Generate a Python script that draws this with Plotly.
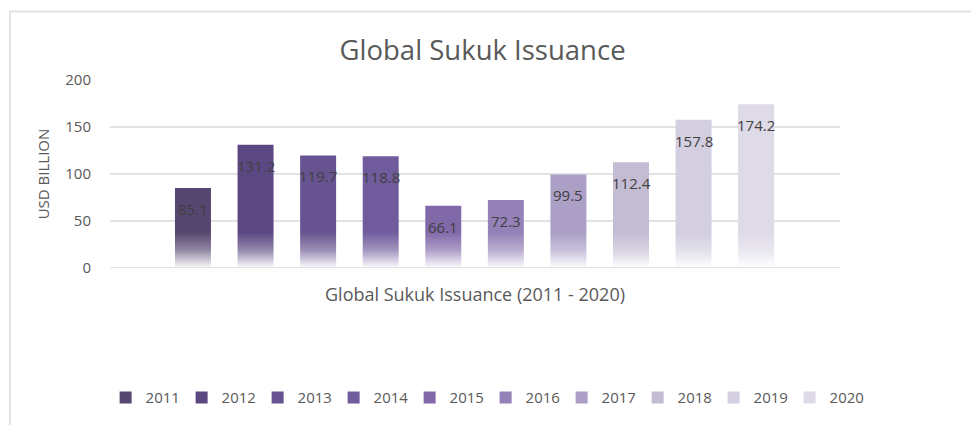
import base64
import plotly.graph_objects as go

# Global sukuk issuance, USD billion
years = ["2011", "2012", "2013", "2014", "2015", "2016", "2017", "2018", "2019", "2020"]
issuance = [85.1, 131.2, 119.7, 118.8, 66.1, 72.3, 99.5, 112.4, 157.8, 174.2]
bar_colors = ["#55476f", "#5b4882", "#66538f", "#705c9d", "#8169a9", "#9381b7",
              "#ab9fc6", "#c3bcd3", "#d3cee0", "#dedae7"]

FONT = "Open Sans"
TEXT_GREY = "#595959"

fig = go.Figure()
for yr, val, col in zip(years, issuance, bar_colors):
    fig.add_trace(go.Bar(
        x=[int(yr)], y=[val], name=yr, width=0.575,
        marker=dict(color=col, line=dict(width=0)),
        hoverinfo="y",
    ))
    fig.add_annotation(
        x=int(yr), y=val, text=f"{val:.1f}", showarrow=False,
        yanchor="top", yshift=-9,
        font=dict(family=FONT, size=15, color="#404040"),
    )

# white fade toward the baseline, drawn as a stretched gradient image
fade_svg = (
    '<svg xmlns="http://www.w3.org/2000/svg" width="10" height="100" '
    'preserveAspectRatio="none" viewBox="0 0 10 100">'
    '<defs><linearGradient id="g" x1="0" y1="0" x2="0" y2="1">'
    '<stop offset="0" stop-color="#ffffff" stop-opacity="0"/>'
    '<stop offset="0.5" stop-color="#ffffff" stop-opacity="0.35"/>'
    '<stop offset="0.97" stop-color="#ffffff" stop-opacity="0.95"/>'
    '<stop offset="1" stop-color="#ffffff" stop-opacity="1"/>'
    '</linearGradient></defs>'
    '<rect x="0" y="0" width="10" height="100" fill="url(#g)"/></svg>'
)
fade_src = "data:image/svg+xml;base64," + base64.b64encode(fade_svg.encode()).decode()
fade_top = 38.0
fig.add_layout_image(
    source=fade_src, xref="paper", yref="y", x=0, y=fade_top,
    sizex=1, sizey=fade_top, xanchor="left", yanchor="top",
    sizing="stretch", layer="above",
)

# baseline redrawn over the fade
fig.add_shape(type="line", xref="paper", x0=0, x1=1, yref="y", y0=0, y1=0,
              line=dict(color="#d9d9d9", width=1.5), layer="above")

# outer chart frame
fig.add_shape(type="rect", xref="paper", yref="paper",
              x0=-0.137, x1=1.3, y0=-1.0, y1=1.365,
              line=dict(color="#e3e3e3", width=2), fillcolor="rgba(0,0,0,0)", layer="below")

fig.update_layout(
    width=971, height=425,
    margin=dict(l=110, r=131, t=80, b=157, autoexpand=False),
    paper_bgcolor="white", plot_bgcolor="white",
    barmode="overlay",
    title=dict(text="Global Sukuk Issuance", x=0.497, xref="container", xanchor="center",
               y=1 - 50 / 425, yref="container", yanchor="middle",
               font=dict(family=FONT, size=27.5, color=TEXT_GREY)),
    font=dict(family=FONT, color=TEXT_GREY),
    xaxis=dict(range=[2009.674, 2021.34], showticklabels=False, showgrid=False,
               zeroline=False, ticks="", showline=False,
               title=dict(text="Global Sukuk Issuance (2011 - 2020)", standoff=20,
                          font=dict(family=FONT, size=18, color=TEXT_GREY))),
    yaxis=dict(range=[0, 200], tickvals=[0, 50, 100, 150, 200], showgrid=True,
               gridcolor="#e2e2e2", gridwidth=1.5, zeroline=False, ticks="",
               ticklabelstandoff=18,
               tickfont=dict(family=FONT, size=15, color=TEXT_GREY),
               title=dict(text="USD BILLION", standoff=12,
                          font=dict(family=FONT, size=15, color=TEXT_GREY))),
    legend=dict(orientation="h", x=-0.006, xanchor="left",
                y=-0.69, yanchor="middle",
                font=dict(family=FONT, size=15, color=TEXT_GREY),
                entrywidth=31, entrywidthmode="pixels", traceorder="normal",
                itemclick=False),
    showlegend=True,
)

fig.write_html("out.html")
